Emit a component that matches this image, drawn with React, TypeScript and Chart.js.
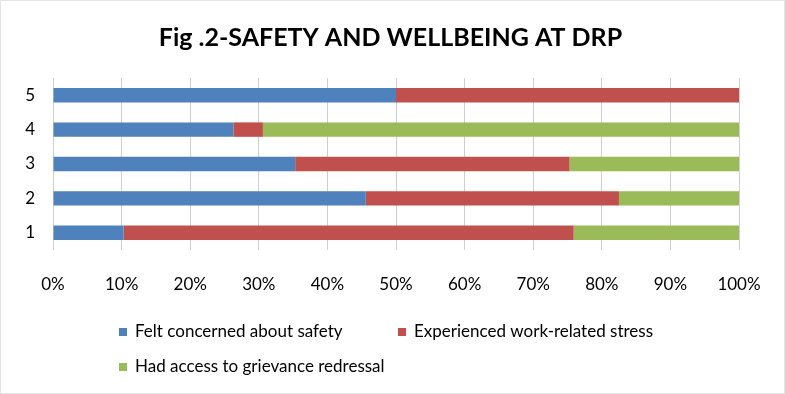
import React, { useEffect, useRef } from "react";
import { Chart, registerables } from "chart.js";

Chart.register(...registerables);

const categories = ["1", "2", "3", "4", "5"];
const seriesNames = [
  "Felt concerned about safety",
  "Experienced work-related stress",
  "Had access to grievance redressal",
];
const feltConcerned = [10.3, 45.6, 35.3, 26.3, 50.0];
const workStress = [65.6, 36.9, 40.0, 4.3, 50.0];
const grievanceAccess = [24.1, 17.5, 24.7, 69.4, 0.0];
const seriesColors = ["#4F81BD", "#C0504D", "#9BBB59"];
const xTickValues = [0, 10, 20, 30, 40, 50, 60, 70, 80, 90, 100];
const titleText = "Fig .2-SAFETY AND WELLBEING AT DRP";

const FONT = "Lato, 'Liberation Sans', sans-serif";

const titlePlugin = {
  id: "customTitle",
  afterDraw(chart: any) {
    const ctx = chart.ctx;
    ctx.save();
    ctx.font = "bold 25px " + FONT;
    ctx.fillStyle = "#000";
    ctx.textAlign = "center";
    ctx.textBaseline = "middle";
    ctx.fillText(titleText, chart.width / 2 - 2, 38);
    ctx.restore();
  },
};

const legendPlugin = {
  id: "customLegend",
  afterDraw(chart: any) {
    const ctx = chart.ctx;
    const ds = chart.data.datasets;
    const slots = [
      { x: 119, y: 332 },
      { x: 398, y: 332 },
      { x: 119, y: 367 },
    ];
    ctx.save();
    ctx.font = "17px " + FONT;
    ctx.textBaseline = "middle";
    ctx.textAlign = "left";
    ds.forEach((d: any, i: number) => {
      const s = slots[i];
      ctx.fillStyle = d.backgroundColor;
      ctx.fillRect(s.x, s.y - 4, 8, 8);
      ctx.fillStyle = "#000";
      ctx.fillText(d.label, s.x + 16, s.y);
    });
    ctx.restore();
  },
};

const borderPlugin = {
  id: "outerBorder",
  beforeDraw(chart: any) {
    const ctx = chart.ctx;
    ctx.save();
    ctx.fillStyle = "#fff";
    ctx.fillRect(0, 0, chart.width, chart.height);
    ctx.strokeStyle = "#e4e4e4";
    ctx.lineWidth = 1;
    ctx.strokeRect(0.5, 0.5, chart.width - 1, chart.height - 1);
    ctx.restore();
  },
};

export default function App() {
  const ref = useRef<HTMLCanvasElement | null>(null);

  useEffect(() => {
    if (!ref.current) return;
    const values = [feltConcerned, workStress, grievanceAccess];
    const chart = new Chart(ref.current, {
      type: "bar",
      data: {
        labels: categories,
        datasets: seriesNames.map((name, i) => ({
          label: name,
          data: values[i],
          backgroundColor: seriesColors[i],
          borderWidth: 0,
          categoryPercentage: 1,
          barPercentage: 0.42,
        })),
      },
      options: {
        indexAxis: "y",
        responsive: false,
        animation: false,
        layout: { padding: { left: 0, right: 46, top: 78, bottom: 94 } },
        plugins: {
          legend: { display: false },
          tooltip: { enabled: false },
          title: { display: false },
        },
        scales: {
          x: {
            stacked: true,
            min: 0,
            max: 100,
            afterBuildTicks(scale: any) {
              scale.ticks = xTickValues.map((v) => ({ value: v }));
            },
            afterFit(scale: any) {
              scale.height = 50;
            },
            grid: { color: "#cfcfcf", drawTicks: false, lineWidth: 1 },
            border: { display: false },
            ticks: {
              color: "#000",
              font: { family: FONT, size: 17 },
              padding: 24,
              maxRotation: 0,
              callback: (v: any) => v + "%",
            },
          },
          y: {
            stacked: true,
            reverse: true,
            afterFit(scale: any) {
              scale.width = 53;
            },
            grid: { display: false, drawTicks: false },
            border: { display: false },
            ticks: {
              color: "#000",
              font: { family: FONT, size: 17 },
              padding: 18,
            },
          },
        },
      },
      plugins: [borderPlugin, titlePlugin, legendPlugin],
    } as any);
    return () => chart.destroy();
  }, []);

  return (
    <div style={{ position: "absolute", left: 0, top: 0, width: 785, height: 394 }}>
      <canvas ref={ref} width={785} height={394} style={{ display: "block" }} />
    </div>
  );
}
